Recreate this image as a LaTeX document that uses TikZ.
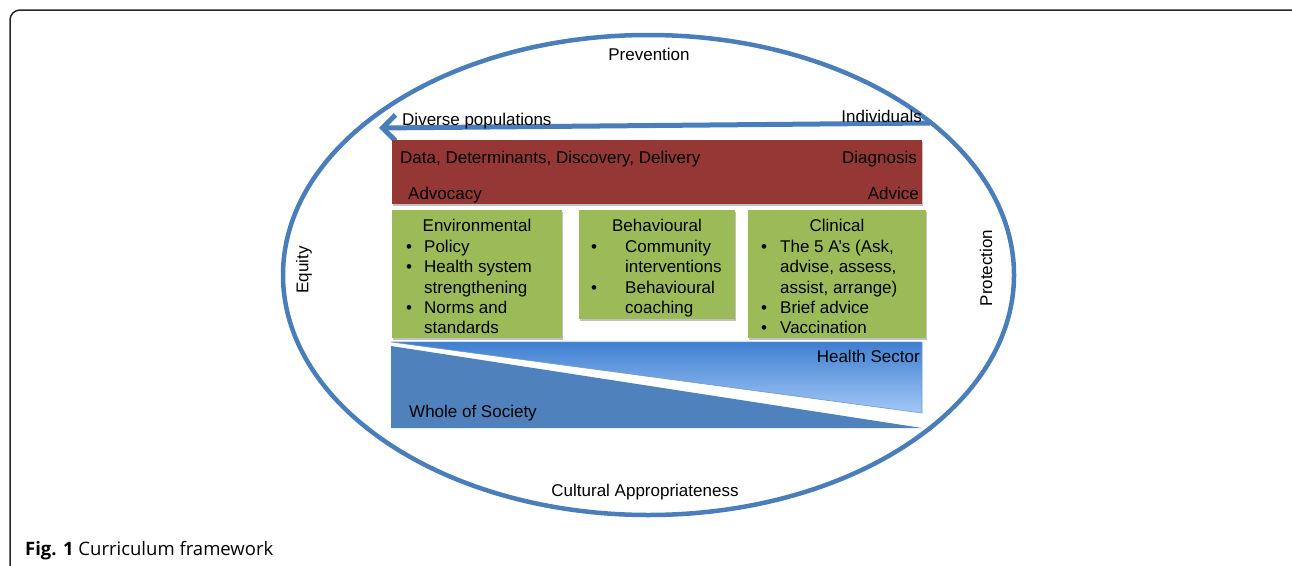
\documentclass[tikz,border=0pt]{standalone}
\usepackage{fontspec}
\setmainfont{Liberation Sans}
\newfontfamily\capfont{Open Sans}
\usetikzlibrary{arrows.meta,shadows,shapes.geometric}
\definecolor{eblue}{HTML}{4A7EBB}
\definecolor{boxred}{HTML}{953735}
\definecolor{boxgreen}{HTML}{9BBB59}
\definecolor{darkblue}{HTML}{4F81BD}
\definecolor{lighttop}{HTML}{3F7FD0}
\definecolor{lightbot}{HTML}{A3C8F6}
\begin{document}
\begin{tikzpicture}[x=1pt,y=-1pt,
  lbl/.style={inner sep=0pt, font=\fontsize{17}{20}\selectfont},
  boxshadow/.style={drop shadow={shadow xshift=1.2pt, shadow yshift=-1.8pt, opacity=0.35, fill=black!70}},
  gbox/.style={fill=boxgreen, draw=none, inner sep=0pt, anchor=north west, boxshadow},
  rbox/.style={fill=boxred, draw=none, inner sep=0pt, anchor=north west, boxshadow},
  arrowline/.style={draw=eblue, line width=5pt, -{Straight Barb[length=13pt,width=26pt]}}
]
\useasboundingbox (0,0) rectangle (1292,565);
\clip (0,0) rectangle (1292,565);
% outer frame
\draw[line width=1.5pt, draw=black!85, rounded corners=10pt] (10,10) rectangle (1302,585);
% ellipse
\node[draw=eblue, line width=4.5pt, ellipse, minimum width=731pt, minimum height=480pt, inner sep=0pt] (oval) at (648.5,275) {};
% arrow
\coordinate (arrR) at (930,123);
\coordinate (arrL) at (379,128);
\draw[arrowline] (arrR) -- (arrL);
\node[lbl, anchor=base west] (divpop) at (402,125) {Diverse populations};
\node[lbl, anchor=base east] (indiv) at (922,122) {Individuals};
% red box
\node[rbox, minimum width=530pt, minimum height=64pt] (red) at (392,140) {};
\node[lbl, anchor=base west] (data) at (400,163) {Data, Determinants, Discovery, Delivery};
\node[lbl, anchor=base east] (diag) at (917,163) {Diagnosis};
\node[lbl, anchor=base west] (advoc) at (408,199) {Advocacy};
\node[lbl, anchor=base east] (advice) at (919,199) {Advice};
% green boxes
\node[gbox, minimum width=170pt, minimum height=128pt] (env) at (392,210) {};
\node[gbox, minimum width=156pt, minimum height=109pt] (beh) at (579,210) {};
\node[gbox, minimum width=178pt, minimum height=128pt] (cli) at (748,210) {};
% environmental
\node[lbl, anchor=base] (envT) at (477,231) {Environmental};
\node[lbl, anchor=base] (envb1) at (409,252) {•};
\node[lbl, anchor=base west] (env1) at (424,252) {Policy};
\node[lbl, anchor=base] (envb2) at (409,272) {•};
\node[lbl, anchor=base west] (env2a) at (424,272) {Health system};
\node[lbl, anchor=base west] (env2b) at (424,293) {strengthening};
\node[lbl, anchor=base] (envb3) at (409,313) {•};
\node[lbl, anchor=base west] (env3a) at (424,313) {Norms and};
\node[lbl, anchor=base west] (env3b) at (424,333) {standards};
% behavioural
\node[lbl, anchor=base] (behT) at (657,231) {Behavioural};
\node[lbl, anchor=base] (behb1) at (594,252) {•};
\node[lbl, anchor=base west] (beh1a) at (625,252) {Community};
\node[lbl, anchor=base west] (beh1b) at (625,272) {interventions};
\node[lbl, anchor=base] (behb2) at (594,293) {•};
\node[lbl, anchor=base west] (beh2a) at (625,293) {Behavioural};
\node[lbl, anchor=base west] (beh2b) at (625,313) {coaching};
% clinical
\node[lbl, anchor=base] (cliT) at (837,231) {Clinical};
\node[lbl, anchor=base] (clib1) at (764,252) {•};
\node[lbl, anchor=base west] (cli1a) at (780,252) {The 5 A’s (Ask,};
\node[lbl, anchor=base west] (cli1b) at (780,272) {advise, assess,};
\node[lbl, anchor=base west] (cli1c) at (780,293) {assist, arrange)};
\node[lbl, anchor=base] (clib2) at (764,313) {•};
\node[lbl, anchor=base west] (cli2) at (780,313) {Brief advice};
\node[lbl, anchor=base] (clib3) at (764,333) {•};
\node[lbl, anchor=base west] (cli3) at (780,333) {Vaccination};
% triangles
\shade[top color=lighttop, bottom color=lightbot, draw=eblue!80, line width=0.6pt] (391,342) -- (922,342) -- (922,413) -- cycle;
\fill[darkblue] (391,346) -- (391,428) -- (922,428) -- cycle;
\node[lbl, anchor=base east] (hs) at (920,362) {Health Sector};
\node[lbl, anchor=base west] (wos) at (409,417) {Whole of Society};
% ellipse labels
\node[lbl, anchor=base] (prev) at (649,60) {Prevention};
\node[lbl, anchor=base] (cult) at (645,496) {Cultural Appropriateness};
\node[lbl, rotate=90] (equity) at (304,270) {Equity};
\node[lbl, rotate=90] (prot) at (986,268) {Protection};
% caption
\node[inner sep=0pt, anchor=base west, font=\capfont\fontsize{18.5}{22}\selectfont] (cap) at (25,555) {\textbf{Fig. 1} Curriculum framework};
\end{tikzpicture}
\end{document}
